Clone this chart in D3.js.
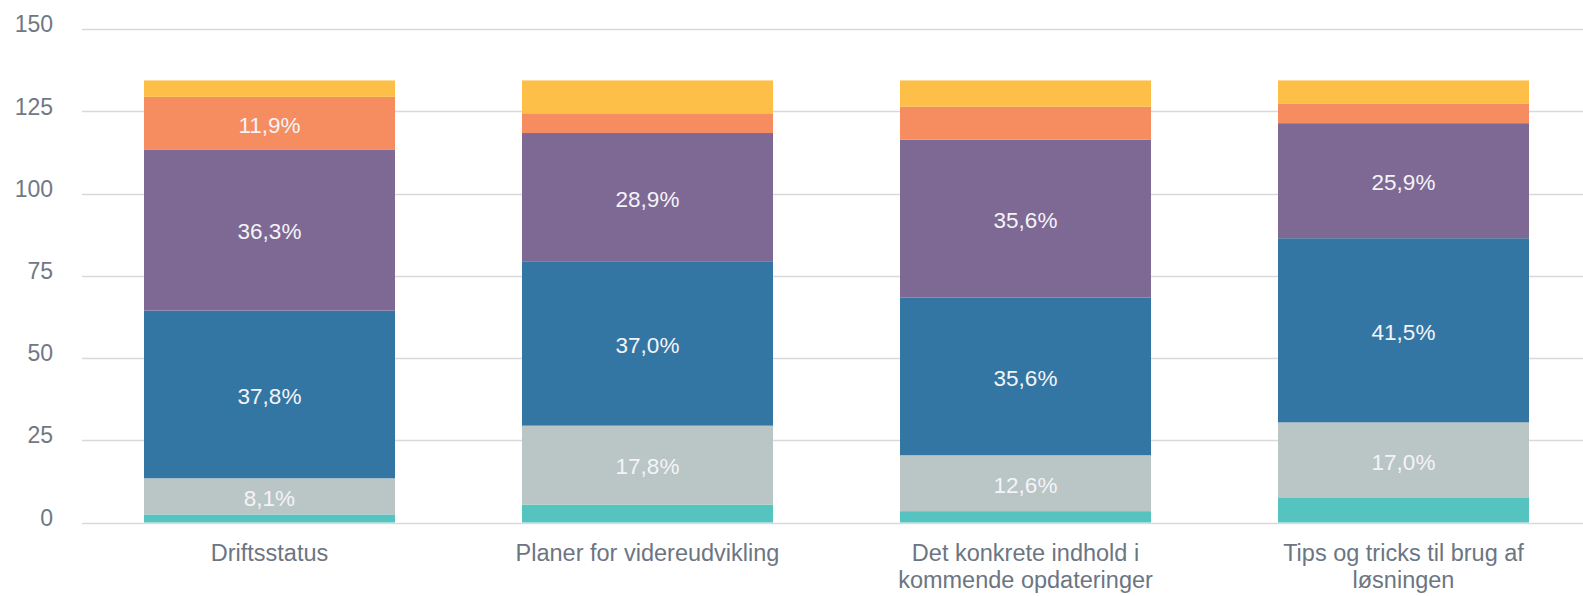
<!DOCTYPE html>
<html>
<head>
<meta charset="utf-8">
<script src="https://cdn.jsdelivr.net/npm/d3@7"></script>
<style>
  html, body { margin: 0; padding: 0; background: #fff; }
  svg { display: block; font-family: "Liberation Sans", Arial, sans-serif; }
</style>
</head>
<body>
<svg id="chart" width="1583" height="596"></svg>
<script>
const categories = ["Driftsstatus", "Planer for videreudvikling", "Det konkrete indhold i kommende opdateringer", "Tips og tricks til brug af løsningen"];
const seriesNames = ["s1", "s2", "s3", "s4", "s5", "s6"];
const s1 = [3, 6, 4, 8];
const s2 = [11, 24, 17, 23];
const s3 = [51, 50, 48, 56];
const s4 = [49, 39, 48, 35];
const s5 = [16, 6, 10, 6];
const s6 = [5, 10, 8, 7];
const seriesColors = ["#55c3bf", "#bac5c6", "#3476a3", "#7e6894", "#f68d61", "#fdbf47"];
const yTicks = [0, 25, 50, 75, 100, 125, 150];

const seriesValues = [s1, s2, s3, s4, s5, s6];
const rows = categories.map((c, i) => {
  const r = { cat: c };
  seriesNames.forEach((s, j) => r[s] = seriesValues[j][i]);
  return r;
});
const totals = categories.map((c, i) => seriesValues.reduce((a, s) => a + s[i], 0));

const svg = d3.select("#chart");
const y = d3.scaleLinear().domain([0, 150]).range([522.5, 29.3]);
const x = d3.scaleBand().domain(categories).range([80.5, 1592.5]).paddingInner(0.336).paddingOuter(0.168);
const shift = 1.8; // bars sit slightly below the exact scale value in the reference
const by = v => v === 0 ? y(0) : y(v) + shift;

// gridlines
svg.append("g").selectAll("line").data(yTicks).join("line")
  .attr("x1", 82).attr("x2", 1583)
  .attr("y1", d => Math.round(y(d)) + 0.5).attr("y2", d => Math.round(y(d)) + 0.5)
  .attr("stroke", "#d9d9d9").attr("stroke-width", 1.5);

// y labels
svg.append("g").selectAll("text").data(yTicks).join("text")
  .attr("x", 53).attr("y", d => y(d) - 5)
  .attr("dy", "0.35em")
  .attr("text-anchor", "end")
  .attr("font-size", 23)
  .attr("fill", "#707884")
  .text(d => d);

const stack = d3.stack().keys(seriesNames);
const stacked = stack(rows);

const g = svg.append("g");
stacked.forEach((layer, li) => {
  g.append("g").selectAll("rect").data(layer).join("rect")
    .attr("x", d => x(d.data.cat))
    .attr("width", x.bandwidth())
    .attr("y", d => by(d[1]))
    .attr("height", d => by(d[0]) - by(d[1]))
    .attr("fill", seriesColors[li]);
});

// labels
stacked.forEach((layer, li) => {
  g.append("g").selectAll("text").data(layer.filter(d => (d[1] - d[0]) / totals[categories.indexOf(d.data.cat)] >= 0.08)).join("text")
    .attr("x", d => x(d.data.cat) + x.bandwidth() / 2)
    .attr("y", d => (by(d[0]) + by(d[1])) / 2 + 1.5)
    .attr("dy", "0.35em")
    .attr("text-anchor", "middle")
    .attr("font-size", 22.5)
    .attr("fill", "#f4f4f8")
    .text(d => {
      const t = totals[categories.indexOf(d.data.cat)];
      return ((d[1] - d[0]) / t * 100).toFixed(1).replace(".", ",") + "%";
    });
});

// category labels with wrapping
const xl = svg.append("g");
categories.forEach(c => {
  const cx = x(c) + x.bandwidth() / 2;
  const t = xl.append("text")
    .attr("x", cx)
    .attr("y", 561)
    .attr("text-anchor", "middle")
    .attr("font-size", 23.5)
    .attr("fill", "#6c7582");
  const words = c.split(" ");
  let line = [];
  let tspan = t.append("tspan").attr("x", cx).attr("dy", 0);
  words.forEach(w => {
    line.push(w);
    tspan.text(line.join(" "));
    if (tspan.node().getComputedTextLength() > 300 && line.length > 1) {
      line.pop();
      tspan.text(line.join(" "));
      line = [w];
      tspan = t.append("tspan").attr("x", cx).attr("dy", 27).text(w);
    }
  });
});
</script>
</body>
</html>
